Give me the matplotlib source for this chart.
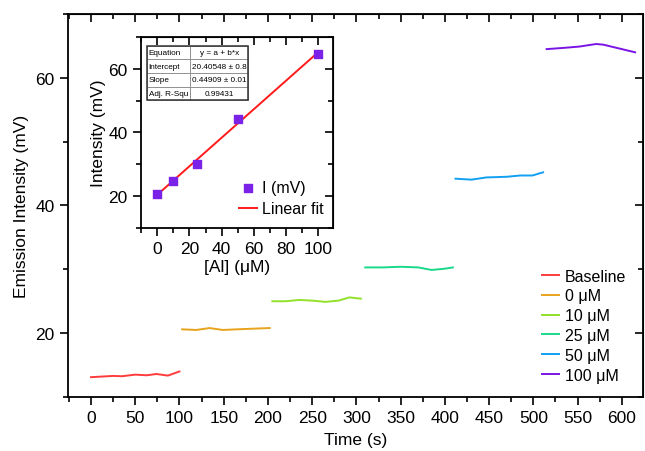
import matplotlib
matplotlib.use("Agg")
import matplotlib.pyplot as plt
from matplotlib.ticker import MultipleLocator
from matplotlib.patches import Rectangle
import numpy as np

plt.rcParams['font.family'] = ['Liberation Sans', 'DejaVu Sans']

# ---- main time-series data ----
t_baseline = [0, 12, 25, 35, 50, 63, 74, 87, 100]
v_baseline = [13.1, 13.2, 13.3, 13.25, 13.5, 13.4, 13.6, 13.35, 14.0]
t_0 = [103, 119, 134, 149, 165, 183, 202]
v_0 = [20.6, 20.5, 20.8, 20.5, 20.6, 20.7, 20.8]
t_10 = [205, 220, 235, 250, 265, 280, 292, 305]
v_10 = [25.0, 25.0, 25.2, 25.1, 24.9, 25.1, 25.6, 25.4]
t_25 = [310, 330, 350, 370, 385, 400, 409]
v_25 = [30.3, 30.3, 30.4, 30.3, 29.9, 30.1, 30.3]
t_50 = [412, 430, 447, 470, 485, 499, 511]
v_50 = [44.2, 44.05, 44.4, 44.5, 44.7, 44.7, 45.2]
t_100 = [515, 535, 552, 571, 579, 594, 615]
v_100 = [64.5, 64.7, 64.9, 65.3, 65.2, 64.7, 64.0]

series_labels = ["Baseline", "0 μM", "10 μM", "25 μM", "50 μM", "100 μM"]
series_colors = ["#ff3b3b", "#e8a31c", "#92e02a", "#19d98a", "#12a0f2", "#7a14e6"]

# ---- inset calibration data ----
conc = [0, 10, 25, 50, 100]
intensity = [20.8, 24.8, 30.0, 44.3, 64.7]
fit_a = 20.40548
fit_b = 0.44909
table_rows = [["Equation", "y = a + b*x"],
              ["Intercept", "20.40548 ± 0.8"],
              ["Slope", "0.44909 ± 0.01"],
              ["Adj. R-Squ", "0.99431"]]


def add_mirror_ticks(a, xmaj, xmin, ymaj, ymin):
    t = a.secondary_xaxis('top')
    t.xaxis.set_major_locator(MultipleLocator(xmaj))
    t.xaxis.set_minor_locator(MultipleLocator(xmin))
    t.tick_params(which='both', direction='in', labeltop=False, width=1.2)
    t.tick_params(which='major', length=6)
    t.tick_params(which='minor', length=3.5)
    r = a.secondary_yaxis('right')
    r.yaxis.set_major_locator(MultipleLocator(ymaj))
    r.yaxis.set_minor_locator(MultipleLocator(ymin))
    r.tick_params(which='both', direction='in', labelright=False, width=1.2)
    r.tick_params(which='major', length=6)
    r.tick_params(which='minor', length=3.5)


fig = plt.figure(figsize=(6.45, 4.52), dpi=100)
ax = fig.add_axes([0.1054, 0.1195, 0.997 - 0.1054, 0.9668 - 0.1195])

ts = [t_baseline, t_0, t_10, t_25, t_50, t_100]
vs = [v_baseline, v_0, v_10, v_25, v_50, v_100]
for t, v, lab, c in zip(ts, vs, series_labels, series_colors):
    ax.plot(t, v, color=c, lw=1.4, label=lab)

ax.set_xlim(-26, 624)
ax.set_ylim(10, 70)
ax.xaxis.set_major_locator(MultipleLocator(50))
ax.xaxis.set_minor_locator(MultipleLocator(25))
ax.yaxis.set_major_locator(MultipleLocator(20))
ax.yaxis.set_minor_locator(MultipleLocator(10))
ax.set_xlabel("Time (s)", fontsize=12.5, labelpad=5)
ax.set_ylabel("Emission Intensity (mV)", fontsize=12.5, labelpad=5)
for sp in ax.spines.values():
    sp.set_linewidth(1.3)
ax.tick_params(which='both', direction='out', top=False, right=False, labelsize=12.5, width=1.2)
ax.tick_params(which='major', length=6)
ax.tick_params(which='minor', length=3.5)
add_mirror_ticks(ax, 50, 25, 20, 10)

ax.legend(loc='lower right', bbox_to_anchor=(0.996, 0.0), frameon=False, fontsize=11.5,
          handlelength=1.1, handletextpad=0.35, labelspacing=0.3)

# ---- inset ----
ins = fig.add_axes([0.2186, 0.4934, 0.5163 - 0.2186, 0.9159 - 0.4934])
ins.scatter(conc, intensity, marker='s', s=28, color='#7b22e8', label='I (mV)', zorder=3)
xf = np.array([0, 100])
ins.plot(xf, fit_a + fit_b * xf, color='#ff1a1a', lw=1.4, label='Linear fit', zorder=2)
ins.set_xlim(-10, 109)
ins.set_ylim(10, 70)
ins.xaxis.set_major_locator(MultipleLocator(20))
ins.xaxis.set_minor_locator(MultipleLocator(10))
ins.yaxis.set_major_locator(MultipleLocator(20))
ins.yaxis.set_minor_locator(MultipleLocator(10))
for sp in ins.spines.values():
    sp.set_linewidth(1.3)
ins.tick_params(which='both', direction='out', labelsize=12.5, width=1.2)
ins.tick_params(which='major', length=6)
ins.tick_params(which='minor', length=3.5)
add_mirror_ticks(ins, 20, 10, 20, 10)
ins.set_xlabel("[Al] (μM)", fontsize=12.5, labelpad=2)
ins.set_ylabel("Intensity (mV)", fontsize=12.5, labelpad=2)
ins.legend(loc='lower right', bbox_to_anchor=(1.0, 0.01), frameon=False, fontsize=11.5,
           handlelength=1.1, handletextpad=0.3, labelspacing=0.4,
           borderaxespad=0.2)

tbl = ins.table(cellText=table_rows, cellLoc='center',
                bbox=[0.031, 0.67, 0.526, 0.283], colWidths=[0.43, 0.57])
tbl.auto_set_font_size(False)
tbl.set_fontsize(5.9)
for (r, c), cell in tbl.get_celld().items():
    cell.set_edgecolor('#888888')
    cell.set_linewidth(0.6)
    if c == 0:
        cell._loc = 'left'
        cell.PAD = 0.04
        cell.get_text().set_horizontalalignment('left')
ins.add_patch(Rectangle((0.031, 0.67), 0.526, 0.283, transform=ins.transAxes,
                        fill=False, edgecolor='#333333', lw=1.1, zorder=5))

fig.savefig("out.png", dpi=100)
